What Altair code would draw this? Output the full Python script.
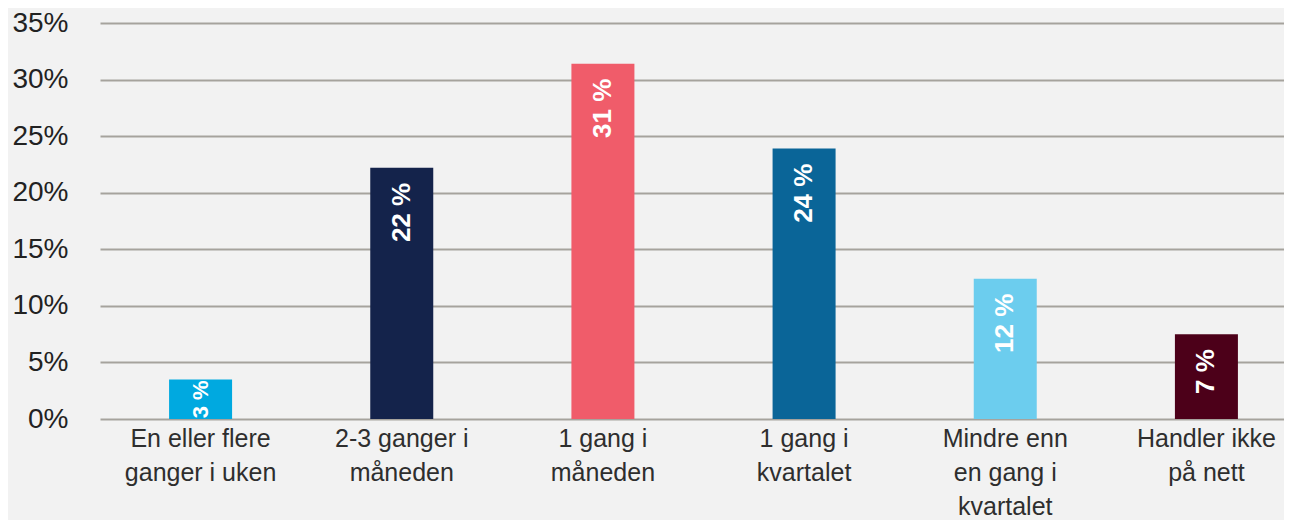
import altair as alt
import pandas as pd

categories = [
    "En eller flere\nganger i uken",
    "2-3 ganger i\nmåneden",
    "1 gang i\nmåneden",
    "1 gang i\nkvartalet",
    "Mindre enn\nen gang i\nkvartalet",
    "Handler ikke\npå nett",
]
values = [3.5, 22.2, 31.4, 23.9, 12.4, 7.5]
labels = ["3 %", "22 %", "31 %", "24 %", "12 %", "7 %"]
colors = ["#00a9e0", "#14234b", "#f05c6a", "#0a6598", "#6ccdee", "#4c0019"]
y_ticks = [0, 5, 10, 15, 20, 25, 30, 35]

df = pd.DataFrame({"cat": categories, "value": values, "label": labels})

FONT = "Liberation Sans"

x_enc = alt.X(
    "cat:N",
    sort=categories,
    scale=alt.Scale(range=[0, 1207], paddingInner=0, paddingOuter=0),
    axis=alt.Axis(
        title=None,
        labelAngle=0,
        labelFont=FONT,
        labelFontSize=25,
        labelLineHeight=34,
        labelPadding=7,
        labelColor="#2e2e2e",
        labelExpr="split(datum.label, '\\n')",
        domain=False,
        ticks=False,
        grid=False,
    ),
)
y_enc = alt.Y(
    "value:Q",
    scale=alt.Scale(domain=[0, 35], nice=False),
    axis=alt.Axis(
        title=None,
        values=y_ticks,
        labelExpr="datum.value + '%'",
        labelFont=FONT,
        labelFontSize=28,
        labelColor="#222222",
        labelPadding=32,
        domain=False,
        ticks=False,
        grid=True,
        gridColor="#a6a39d",
        gridWidth=2,
        gridOpacity=1,
    ),
)

base = alt.Chart(df)

bars = base.mark_bar(size=63).encode(
    x=x_enc,
    y=y_enc,
    color=alt.Color("cat:N", scale=alt.Scale(domain=categories, range=colors), legend=None),
)

text_big = base.transform_filter("datum.value >= 5").mark_text(
    angle=270, align="right", baseline="middle", dx=-15,
    color="white", font=FONT, fontSize=26, fontWeight="bold",
).encode(x=alt.X("cat:N", sort=categories), y="value:Q", text="label:N")

text_small = base.transform_filter("datum.value < 5").mark_text(
    angle=270, align="right", baseline="middle", dx=-1,
    color="white", font=FONT, fontSize=22, fontWeight="bold",
).encode(x=alt.X("cat:N", sort=categories), y="value:Q", text="label:N")

chart = (
    alt.layer(bars, text_big, text_small)
    .properties(
        width=1184,
        height=396,
        background="#f2f2f2",
        padding={"left": 92, "top": 15, "right": 0, "bottom": 101},
        autosize=alt.AutoSizeParams(type="none"),
    )
    .configure_view(stroke=None)
)

chart.save("out.html", embed_options={"renderer": "svg", "actions": False})
